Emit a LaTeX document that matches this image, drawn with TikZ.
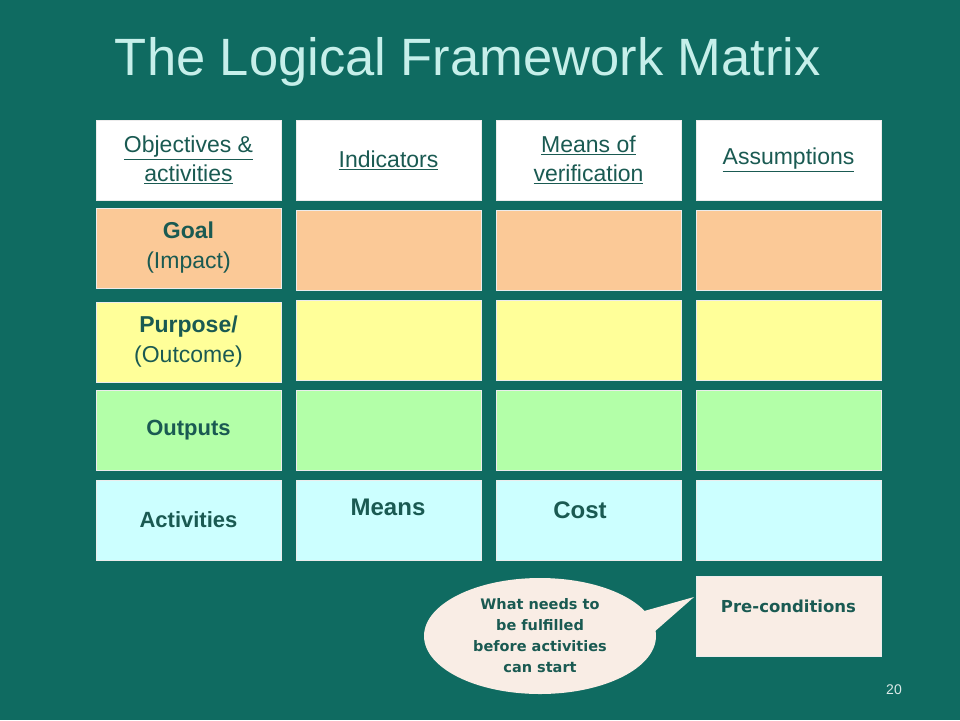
\documentclass[tikz,border=0pt]{standalone}
\usepackage{fontspec}
\setmainfont{Liberation Sans}
\newfontfamily\verd{DejaVu Sans}
\usetikzlibrary{shapes.geometric}
\definecolor{bg}{HTML}{0F6B61}
\definecolor{ttl}{HTML}{C6EFEA}
\definecolor{tx}{HTML}{1A5A52}
\definecolor{goalc}{HTML}{FBC997}
\definecolor{purpc}{HTML}{FFFF99}
\definecolor{outc}{HTML}{B3FFA8}
\definecolor{actc}{HTML}{CCFFFF}
\definecolor{prec}{HTML}{F9EDE5}
\begin{document}
\begin{tikzpicture}[x=1pt,y=-1pt,
 cell/.style={draw=white!85!gray,line width=0.6pt,minimum width=185pt,minimum height=80pt,inner sep=0pt,align=center,text=tx,font=\fontsize{23}{30}\selectfont},
 hd/.style={cell,fill=white,font=\fontsize{23}{29}\selectfont}]
\fill[bg] (0,0) rectangle (960,720);
\useasboundingbox (0,0) rectangle (960,720);
\node[text=ttl,font=\fontsize{52.5}{56}\selectfont] (title) at (468,62) {The Logical Framework Matrix};
\node[hd] (h1) at (188.5,160) {\underline{Objectives \&}\\\underline{activities}};
\node[hd] (h2) at (388.5,160) {\underline{Indicators}};
\node[hd] (h3) at (588.5,160) {\underline{Means of}\\\underline{verification}};
\node[hd] (h4) at (788.5,160) {\underline{Assumptions}};
\node[cell,fill=goalc] (g1) at (188.5,248) {\textbf{Goal}\\(Impact)};
\node[cell,fill=goalc] (g2) at (388.5,250) {};
\node[cell,fill=goalc] (g3) at (588.5,250) {};
\node[cell,fill=goalc] (g4) at (788.5,250) {};
\node[cell,fill=purpc] (p1) at (188.5,342) {\textbf{Purpose/}\\(Outcome)};
\node[cell,fill=purpc] (p2) at (388.5,340) {};
\node[cell,fill=purpc] (p3) at (588.5,340) {};
\node[cell,fill=purpc] (p4) at (788.5,340) {};
\node[cell,fill=outc,font=\bfseries\fontsize{22}{24}\selectfont] (o1) at (188.5,430) {Outputs};
\node[cell,fill=outc] (o2) at (388.5,430) {};
\node[cell,fill=outc] (o3) at (588.5,430) {};
\node[cell,fill=outc] (o4) at (788.5,430) {};
\node[cell,fill=actc,font=\bfseries\fontsize{22}{24}\selectfont] (a1) at (188.5,520) {Activities};
\node[cell,fill=actc] (a2) at (388.5,520) {};
\node[cell,fill=actc] (a3) at (588.5,520) {};
\node[cell,fill=actc] (a4) at (788.5,520) {};
\node[text=tx,font=\bfseries\fontsize{24}{26}\selectfont] (mn) at (388,507) {Means};
\node[text=tx,font=\bfseries\fontsize{24}{26}\selectfont] (cs) at (580,510) {Cost};
\node[cell,fill=prec] (pre) at (788.5,616) {};
\node[text=tx,font=\verd\bfseries\fontsize{16.5}{20}\selectfont] (pret) at (788.5,606) {Pre-conditions};
\node[ellipse,fill=prec,minimum width=232pt,minimum height=116pt,inner sep=0pt] (ell) at (540,636) {};
\fill[prec] (630,615) -- (694,597) -- (645,640) -- cycle;
\coordinate (tip) at (694,597);
\node[text=tx,align=center,font=\verd\bfseries\fontsize{14.5}{21}\selectfont] (elt) at (540,636) {What needs to\\be fulfilled\\before activities\\can start};
\node[text=white!85!bg,font=\fontsize{14}{16}\selectfont] (pg) at (894,690) {20};
\end{tikzpicture}
\end{document}
